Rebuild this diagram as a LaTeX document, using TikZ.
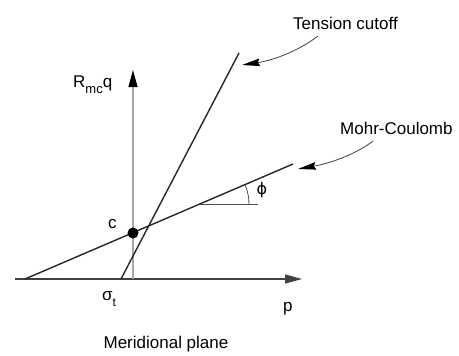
\documentclass[tikz,border=0pt]{standalone}
\usepackage{fontspec}
\setmainfont{Liberation Sans}
\newfontfamily\dvsfont{DejaVu Sans}
\usetikzlibrary{arrows.meta}
\begin{document}
\begin{tikzpicture}[x=1pt,y=-1pt,
  lbl/.style={inner sep=0pt, font=\fontsize{17}{20}\selectfont},
  envline/.style={line width=1.4pt, black!85},
  axisarrow/.style={-{Triangle[length=17pt,width=9pt]}},
  callout/.style={line width=0.8pt, black!75, -{Stealth[length=18pt,width=7.5pt,inset=2pt,black]}}]
\useasboundingbox (0,0) rectangle (459,356);
% coordinates
\coordinate (hstart) at (15,279);
\coordinate (hend) at (302,279);
\coordinate (vstart) at (133,279);
\coordinate (vend) at (133,70);
\coordinate (mcA) at (25,279);
\coordinate (mcB) at (293,164);
\coordinate (tcA) at (121,279);
\coordinate (tcB) at (239,53);
\coordinate (phiA) at (200,204);
\coordinate (phiB) at (258,204);
\coordinate (tcS) at (318,36);
\coordinate (tcT) at (242,65);
\coordinate (mcS) at (373,141);
\coordinate (mcT) at (298,169);
% axes
\draw[line width=1.1pt, black!75, axisarrow] (hstart) -- (hend);
\draw[line width=1.1pt, black!35, -{Triangle[length=17pt,width=9pt,black]}] (vstart) -- (vend);
% lines
\draw[envline] (mcA) -- (mcB);
\draw[envline] (tcA) -- (tcB);
\draw[line width=0.8pt, black!70] (phiA) -- (phiB);
\draw[line width=0.8pt, black!70] ([shift={(0:49)}]phiA) arc[start angle=0, end angle=-23.2, radius=49];
\fill[black] (133,233) circle[radius=5.5];
% callouts
\draw[callout] (tcS) .. controls (300,50) and (275,60) .. (tcT);
\draw[callout] (mcS) .. controls (358,153) and (332,163) .. (mcT);
% labels
\node[lbl, anchor=base west] (tclbl) at (293,29) {Tension cutoff};
\node[lbl, anchor=base west] (mclbl) at (340,135) {Mohr-Coulomb};
\node[lbl, anchor=base west] (rlbl) at (73,87) {R\raisebox{-6pt}{\fontsize{13}{14}\selectfont mc}q};
\node[lbl, anchor=base west] (clbl) at (108,228) {c};
\node[lbl, anchor=base west] (slbl) at (102,300) {σ\raisebox{-6pt}{\fontsize{12}{13}\selectfont t}};
\node[lbl, anchor=base west] (plbl) at (283,311) {p};
\node[lbl, anchor=base] (mplbl) at (166,348) {Meridional plane};
\node[lbl, font=\dvsfont\fontsize{16}{18}\selectfont] (philbl) at (262,190) {ϕ};
\end{tikzpicture}
\end{document}
